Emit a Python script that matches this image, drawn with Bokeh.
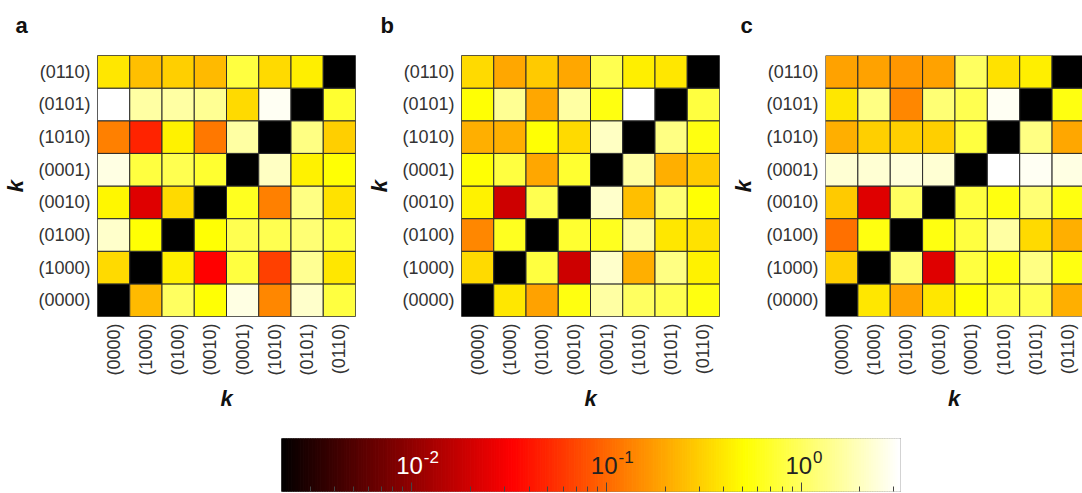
import numpy as np
from bokeh.plotting import figure
from bokeh.models import (LogColorMapper, FixedTicker, Range1d,
                          ColumnDataSource)
from bokeh.layouts import column, row
from bokeh.embed import file_html
from bokeh.resources import INLINE
from bokeh.core.properties import value

# ---------------- data ----------------
states = ["(0000)", "(1000)", "(0100)", "(0010)", "(0001)", "(1010)", "(0101)", "(0110)"]

# rows: state on the vertical axis, from (0000) (bottom) to (0110) (top)
# columns: state on the horizontal axis, same order
panel_a = [
    [0, 0.24, 1.03, 0.52, 2.6, 0.14, 2.2, 0.82],
    [0.34, 0, 0.43, 0.033, 0.82, 0.066, 1.46, 0.40],
    [2.2, 0.52, 0, 0.52, 0.92, 0.92, 1.16, 0.82],
    [0.47, 0.023, 0.34, 0, 0.65, 0.13, 1.3, 0.37],
    [2.6, 0.82, 0.92, 0.73, 0, 2.06, 0.44, 0.52],
    [0.13, 0.047, 0.44, 0.12, 1.64, 0, 1.3, 0.31],
    [3.2, 1.64, 1.64, 1.46, 0.34, 2.9, 0, 0.73],
    [0.40, 0.26, 0.31, 0.24, 0.82, 0.34, 0.43, 0],
]
panel_b = [
    [0, 0.40, 0.19, 0.58, 1.64, 1.03, 0.92, 0.58],
    [0.34, 0, 0.82, 0.019, 2.2, 0.22, 1.3, 0.44],
    [0.14, 0.65, 0, 0.73, 0.65, 1.64, 0.40, 0.37],
    [0.44, 0.019, 0.92, 0, 2.2, 0.26, 1.16, 0.52],
    [0.52, 0.82, 0.20, 0.73, 0, 1.64, 0.22, 0.29],
    [0.22, 0.22, 0.52, 0.34, 2.06, 0, 1.3, 0.58],
    [0.52, 1.46, 0.20, 1.64, 0.58, 3.2, 0, 0.82],
    [0.34, 0.20, 0.29, 0.20, 0.92, 0.43, 0.40, 0],
]
panel_c = [
    [0, 0.40, 0.19, 0.40, 0.52, 0.82, 0.92, 0.22],
    [0.31, 0, 1.16, 0.023, 0.82, 0.58, 1.3, 0.58],
    [0.11, 0.58, 0, 0.58, 0.82, 1.64, 0.34, 0.22],
    [0.29, 0.023, 1.03, 0, 0.82, 0.58, 1.16, 0.58],
    [2.3, 2.3, 2.45, 2.3, 0, 3.2, 2.9, 2.6],
    [0.22, 0.31, 0.31, 0.31, 0.82, 0, 1.3, 0.20],
    [0.40, 1.3, 0.14, 1.16, 0.92, 2.9, 0, 0.58],
    [0.19, 0.19, 0.17, 0.19, 1.03, 0.37, 0.43, 0],
]
panel_letters = ["a", "b", "c"]

cbar_low, cbar_high = 0.00214, 3.24
cbar_ticks = [0.01, 0.1, 1]
cbar_exps = ["-2", "-1", "0"]
cbar_label_colors = ["#ffffff", "#222222", "#222222"]

# ---------------- colour map (MATLAB-style "hot") ----------------
def hot_palette(m=256):
    n1 = int(3 * m / 8)
    n2 = n1
    pal = []
    for i in range(m):
        r = min(1.0, (i + 1) / n1)
        g = 0.0 if i < n1 else min(1.0, (i - n1 + 1) / n2)
        b = 0.0 if i < n1 + n2 else (i - n1 - n2 + 1) / (m - n1 - n2)
        pal.append("#%02x%02x%02x" % (round(r * 255), round(g * 255), round(b * 255)))
    return pal

HOT = hot_palette()
mapper = LogColorMapper(palette=HOT, low=cbar_low, high=cbar_high,
                        low_color="#000000", nan_color="#000000")

FONT = "Liberation Sans"
TOP_H = 50


def letter_fig(letter, width, lx):
    f = figure(width=width, height=TOP_H, x_range=Range1d(0, width), y_range=Range1d(0, TOP_H),
               output_backend="svg", toolbar_location=None,
               x_axis_location=None, y_axis_location=None,
               min_border=0, min_border_left=0, min_border_right=0,
               min_border_top=0, min_border_bottom=0)
    f.grid.visible = False
    f.outline_line_color = None
    f.border_fill_color = "white"
    f.text(x=[lx], y=[TOP_H - 25], text=[letter], text_font=value(FONT),
           text_font_size="22px", text_font_style="bold", text_color="#111111",
           text_align="left", text_baseline="alphabetic")
    return f


def heat(mat, width, left, right, xend, outline):
    xs, ys, vs = [], [], []
    for i, rowv in enumerate(mat):
        for j, v in enumerate(rowv):
            xs.append(j + 0.5)
            ys.append(i + 0.5)
            vs.append(v)
    src = ColumnDataSource(dict(x=xs, y=ys, v=vs))
    p = figure(width=width, height=416 - TOP_H, x_range=Range1d(0, xend), y_range=Range1d(0, 8),
               output_backend="svg", toolbar_location=None,
               min_border_left=left, min_border_right=right,
               min_border_top=55 - TOP_H, min_border_bottom=100)
    p.rect(x="x", y="y", width=1, height=1, source=src,
           fill_color={"field": "v", "transform": mapper},
           line_color="#2a2a2a", line_width=1)
    ticks = [i + 0.5 for i in range(len(states))]
    overrides = {t: s for t, s in zip(ticks, states)}
    for ax in (p.xaxis[0], p.yaxis[0]):
        ax.ticker = FixedTicker(ticks=ticks)
        ax.major_label_overrides = overrides
        ax.axis_line_color = None
        ax.major_tick_line_color = None
        ax.minor_tick_line_color = None
        ax.major_tick_in = 0
        ax.major_tick_out = 0
        ax.major_label_standoff = 7
        ax.major_label_text_font = FONT
        ax.major_label_text_font_size = "18px"
        ax.major_label_text_color = "#333333"
        ax.axis_label = "k"
        ax.axis_label_text_font = FONT
        ax.axis_label_text_font_style = "bold italic"
        ax.axis_label_text_font_size = "22px"
        ax.axis_label_text_color = "#111111"
        ax.axis_label_standoff = 7
    p.xaxis.major_label_orientation = np.pi / 2
    p.grid.visible = False
    p.outline_line_color = outline
    p.background_fill_color = "white"
    p.border_fill_color = "white"
    return p


la = letter_fig(panel_letters[0], 364, 15)
lb = letter_fig(panel_letters[1], 364, 16)
lc = letter_fig(panel_letters[2], 354, 12)
fa = heat(panel_a, 364, 95, 9, 8, "#666666")
fb = heat(panel_b, 364, 95, 9, 8, "#666666")
fc = heat(panel_c, 354, 96, 0, 7.94, None)

# ---------------- colour bar ----------------
cb = figure(width=1082, height=77, x_axis_type="log",
            x_range=Range1d(cbar_low, cbar_high), y_range=Range1d(0, 1),
            output_backend="svg", toolbar_location=None, y_axis_location=None,
            min_border_left=281, min_border_right=182, min_border_top=22, min_border_bottom=2)
edges = np.logspace(np.log10(cbar_low), np.log10(cbar_high), len(HOT) + 1)
cb.quad(left=edges[:-1], right=edges[1:], bottom=0, top=1,
        fill_color=HOT, line_color=HOT, line_width=1)
minor = [k * 10.0 ** e for e in (-3, -2, -1, 0) for k in range(2, 10)]
cb.xaxis.ticker = FixedTicker(ticks=cbar_ticks, minor_ticks=minor)
cb.xaxis.major_tick_in = 9
cb.xaxis.major_tick_out = 0
cb.xaxis.minor_tick_in = 5
cb.xaxis.minor_tick_out = 0
cb.xaxis.major_tick_line_color = "#444444"
cb.xaxis.minor_tick_line_color = "#444444"
cb.xaxis.axis_line_color = None
cb.xaxis.major_label_text_font_size = "1px"
cb.xaxis.major_label_text_color = None
cb.xaxis.major_label_standoff = 0
cb.grid.visible = False
cb.outline_line_color = "#888888"
cb.border_fill_color = "white"

lab_src = ColumnDataSource(dict(x=cbar_ticks, y=[0.5] * 3, base=["10"] * 3,
                                exp=cbar_exps, c=cbar_label_colors))
cb.text(x="x", y="y", text="base", source=lab_src, text_color="c",
        text_font=value(FONT), text_font_size="24px",
        text_align="right", text_baseline="middle", x_offset=11)
cb.text(x="x", y="y", text="exp", source=lab_src, text_color="c",
        text_font=value(FONT), text_font_size="17px",
        text_align="left", text_baseline="middle", x_offset=12, y_offset=-8)

layout = column(row(la, lb, lc), row(fa, fb, fc), cb)
open("out.html", "w").write(file_html(layout, INLINE))
